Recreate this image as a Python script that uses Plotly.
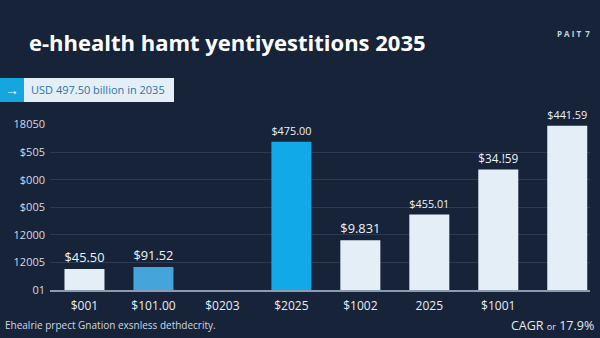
import plotly.graph_objects as go

# ---- data ----
categories = ["$001", "$101.00", "$0203", "$2025", "$1002", "2025", "$1001", " "]
values = [0.76, 0.83, 0.0, 5.38, 1.80, 2.74, 4.37, 5.96]
bar_labels = ["$45.50", "$91.52", "", "$475.00", "$9.831", "$455.01", "$34.!59", "$441.59"]
bar_colors = ["#e4eef7", "#45a5da", "#e4eef7", "#12a9e8", "#e4eef7", "#e4eef7", "#e4eef7", "#e4eef7"]
y_tickvals = [0, 1, 2, 3, 4, 5, 6]
y_ticktext = ["01", "12005", "12000", "$005", "$000", "$505", "18050"]

title_text = "e-hhealth hamt yentiyestitions 2035"
banner_text = "USD 497.50 billion in 2035"
footer_text = "Ehealrie prpect Gnation exsnless dethdecrity."
cagr_text = "CAGR <span style='font-size:9px'>or</span> 17.9%"

BG = "#172339"
FONT = "Open Sans"

fig = go.Figure()
fig.add_trace(go.Bar(
    x=categories, y=values,
    marker=dict(color=bar_colors, line=dict(width=0)),
    text=bar_labels, textposition="outside",
    textfont=dict(family=FONT, size=13, color="#eef3f8"),
    cliponaxis=False, width=0.58,
))

fig.update_layout(
    width=600, height=338,
    paper_bgcolor=BG, plot_bgcolor=BG,
    margin=dict(l=50, r=10, t=124, b=48),
    showlegend=False,
    font=dict(family=FONT, color="#e6ecf3"),
    xaxis=dict(
        type="category", range=[-0.5, 7.33],
        showgrid=False, zeroline=False,
        showline=True, linecolor="#8c9bb0", linewidth=1.5,
        ticks="", tickfont=dict(size=12, color="#e8eef5"),
        ticklabelstandoff=4,
        fixedrange=True,
    ),
    yaxis=dict(
        range=[0, 6.02],
        tickvals=y_tickvals, ticktext=y_ticktext,
        showgrid=True, gridcolor="#2c3b53", gridwidth=1,
        zeroline=False, showline=False,
        ticks="", tickfont=dict(size=11, color="#d3dbe5"),
        ticklabelstandoff=4,
    ),
)

PW, PH = 540.0, 166.0
def px(x):
    return (x - 50) / PW
def py(y):
    return (290 - y) / PH

# banner boxes
fig.add_shape(type="rect", xref="paper", yref="paper", layer="above",
              x0=px(0), x1=px(24), y0=py(102), y1=py(78),
              fillcolor="#16a6de", line=dict(width=0))
fig.add_shape(type="rect", xref="paper", yref="paper", layer="above",
              x0=px(24), x1=px(174), y0=py(102), y1=py(78),
              fillcolor="#e3eef6", line=dict(width=0))
fig.add_annotation(xref="paper", yref="paper", x=px(12), y=py(90),
                   xanchor="center", yanchor="middle", text="→", showarrow=False,
                   font=dict(family=FONT, size=14, color="#ffffff"))
fig.add_annotation(xref="paper", yref="paper", x=px(29), y=py(90),
                   xanchor="left", yanchor="middle", text=banner_text, showarrow=False,
                   font=dict(family=FONT, size=11, color="#2b74a3"))

# title
fig.add_annotation(xref="paper", yref="paper", x=px(27), y=py(42),
                   xanchor="left", yanchor="middle",
                   text="<b>" + title_text + "</b>", showarrow=False,
                   font=dict(family=FONT, size=22, color="#ffffff"))
# page tag
fig.add_annotation(xref="paper", yref="paper", x=px(592), y=py(34),
                   xanchor="right", yanchor="middle",
                   text="<b>P A I T  7</b>", showarrow=False,
                   font=dict(family=FONT, size=8, color="#c9d3df"))

# footer
fig.add_annotation(xref="paper", yref="paper", x=px(3), y=py(325),
                   xanchor="left", yanchor="middle", text=footer_text, showarrow=False,
                   font=dict(family=FONT, size=10, color="#cfd8e3"))
fig.add_annotation(xref="paper", yref="paper", x=px(596), y=py(325),
                   xanchor="right", yanchor="middle", text=cagr_text, showarrow=False,
                   font=dict(family=FONT, size=12.5, color="#e4eaf1"))

fig.write_html("out.html")
